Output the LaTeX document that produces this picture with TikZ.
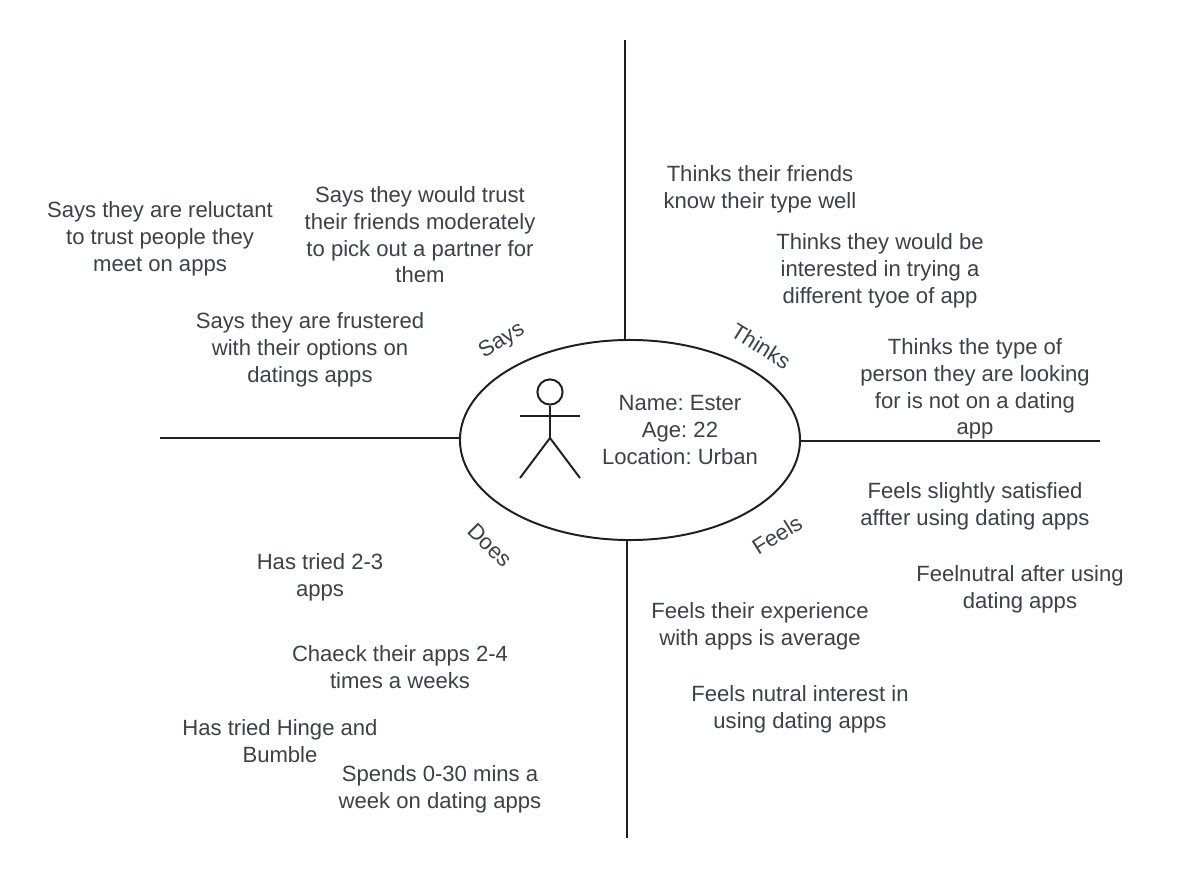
\documentclass[tikz,border=0pt]{standalone}
\usepackage{fontspec}
\setmainfont{Liberation Sans}
\usetikzlibrary{positioning,shapes.geometric}
\definecolor{lineC}{HTML}{1F1F1F}
\definecolor{textC}{HTML}{3A414A}

\begin{document}
\frenchspacing
\begin{tikzpicture}[
  x=0.025cm, y=-0.025cm,
  every node/.style={font=\fontsize{15.7}{19}\selectfont, text=textC},
  axisline/.style={draw=lineC, line width=1.4pt},
  note/.style={align=center, inner sep=0pt},
  tag/.style={inner sep=0pt},
  personbox/.style={ellipse, draw=lineC, line width=1.4pt, inner sep=0pt,
                    minimum width=8.5cm, minimum height=5cm},
]
\useasboundingbox (0,0) rectangle (1180,880);

% ── Centre ──
\node[personbox] (persona) at (630,440) {};
\node[note] (info) at (680,430) {Name: Ester\\Age: 22\\Location: Urban};

% ── Stick figure ──
\node[circle, axisline, minimum size=0.63cm, inner sep=0pt] (head) at (550,392) {};
\coordinate (hip) at (550,438);
\coordinate (armL) at (520,416);
\coordinate (armR) at (580,416);
\coordinate (footL) at (520,478);
\coordinate (footR) at (580,478);
\draw[axisline] (head.south) -- (hip);
\draw[axisline] (armL) -- (armR);
\draw[axisline] (footL) -- (hip) -- (footR);

% ── Axes ──
\coordinate (axisTop) at (625,40);
\coordinate (axisLeft) at (160,438);
\coordinate (axisRight) at (1100,441);
\coordinate (axisBottom) at (627,838);
\draw[axisline] (axisTop) -- (axisTop |- persona.north);
\draw[axisline] (axisLeft) -- (axisLeft -| persona.west);
\draw[axisline] (axisRight) -- (axisRight -| persona.east);
\draw[axisline] (axisBottom) -- (axisBottom |- persona.south);

% ── Quadrant tags ──
\node[tag, rotate=32] (saysTag) at (502,341) {Says};
\node[tag, rotate=-32] (thinksTag) at (761,346) {Thinks};
\node[tag, rotate=-45] (doesTag) at (490,545) {Does};
\node[tag, rotate=32] (feelsTag) at (777,535) {Feels};

% ── Says ──
\node[note] (says1) at (160,239) {Says they are reluctant\\to trust people they\\meet on apps};
\node[note] (says2) at (420,235) {Says they would trust\\their friends moderately\\to pick out a partner for\\them};
\node[note] (says3) at (310,350) {Says they are frustered\\with their options on\\datings apps};

% ── Thinks ──
\node[note] (thinks1) at (760,189) {Thinks their friends\\know their type well};
\node[note] (thinks2) at (880,271) {Thinks they would be\\interested in trying a\\different tyoe of app};
\node[note] (thinks3) at (975,389) {Thinks the type of\\person they are looking\\for is not on a dating\\app};

% ── Feels ──
\node[note] (feels1) at (975,506) {Feels slightly satisfied\\affter using dating apps};
\node[note] (feels2) at (1020,589) {Feelnutral after using\\dating apps};
\node[note] (feels3) at (760,626) {Feels their experience\\with apps is average};
\node[note] (feels4) at (800,709) {Feels nutral interest in\\using dating apps};

% ── Does ──
\node[note] (does1) at (320,577) {Has tried 2-3\\apps};
\node[note] (does2) at (400,667) {Chaeck their apps 2-4\\times a weeks};
\node[note] (does3) at (280,741) {Has tried Hinge and\\Bumble};
\node[note] (does4) at (440,789) {Spends 0-30 mins a\\week on dating apps};

\end{tikzpicture}
\end{document}
